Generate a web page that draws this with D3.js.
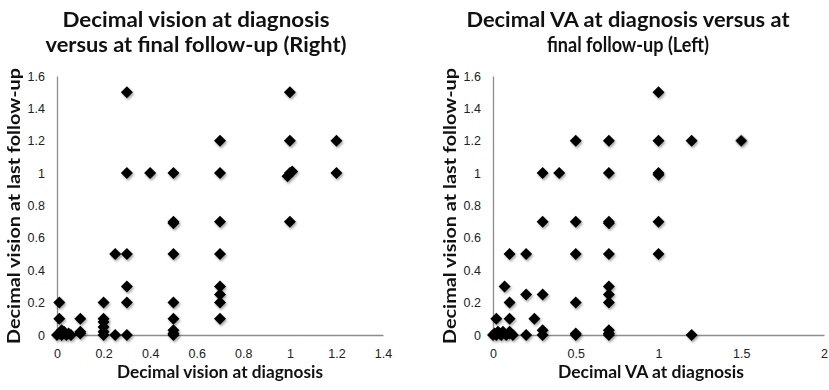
<!DOCTYPE html>
<html>
<head>
    <title>Decimal vision at diagnosis versus final follow-up</title>
    <script src="https://cdnjs.cloudflare.com/ajax/libs/d3/7.8.5/d3.min.js"></script>
    <style>
        body {
            margin: 0;
            background: white;
            font-family: Lato, "Open Sans", sans-serif;
        }
        .tick-label {
            font-size: 12.5px;
            fill: #222;
        }
        .chart-title {
            font-size: 20.5px;
            font-weight: 700;
            fill: #111;
        }
        .axis-title {
            font-size: 16.5px;
            font-weight: 700;
            fill: #111;
        }
    </style>
</head>
<body>
<svg id="chart" width="829" height="390"></svg>
<script>
// Right eye: [vision at diagnosis, vision at last follow-up]
const rightEyePoints = [
    [0.01, 0.2], [0.01, 0.1], [0, 0], [0.01, 0.01], [0.02, 0], [0.03, 0.02],
    [0.04, 0], [0.05, 0.01], [0.02, 0.03], [0.06, 0],
    [0.1, 0.1], [0.1, 0.02], [0.1, 0.01],
    [0.2, 0.2], [0.2, 0.1], [0.2, 0.08], [0.2, 0.05], [0.2, 0.02], [0.2, 0],
    [0.25, 0.5], [0.25, 0],
    [0.3, 1.5], [0.3, 1], [0.3, 0.5], [0.3, 0.3], [0.3, 0.2], [0.3, 0],
    [0.4, 1],
    [0.5, 1], [0.5, 0.7], [0.5, 0.69], [0.5, 0.5], [0.5, 0.2], [0.5, 0.1],
    [0.5, 0.03], [0.5, 0.01], [0.5, 0],
    [0.7, 1.2], [0.7, 1], [0.7, 0.7], [0.7, 0.5], [0.7, 0.3], [0.7, 0.25],
    [0.7, 0.2], [0.7, 0.1],
    [1, 1.5], [1, 1.2], [1, 1], [0.99, 0.98], [1.01, 1.01], [1, 0.7],
    [1.2, 1.2], [1.2, 1]
];

// Left eye: [VA at diagnosis, vision at last follow-up]
const leftEyePoints = [
    [0, 0], [0.01, 0.01], [0.02, 0], [0.03, 0.02], [0.04, 0.01], [0.05, 0],
    [0.06, 0.02], [0.08, 0], [0.1, 0.01], [0.12, 0], [0.02, 0.1],
    [0.07, 0.3], [0.1, 0.5], [0.1, 0.2], [0.1, 0.1], [0.1, 0.02],
    [0.2, 0.5], [0.2, 0.25], [0.2, 0],
    [0.25, 0.1],
    [0.3, 1], [0.3, 0.7], [0.3, 0.25], [0.3, 0.03], [0.3, 0],
    [0.4, 1],
    [0.5, 1.2], [0.5, 0.7], [0.5, 0.5], [0.5, 0.2], [0.5, 0.01], [0.5, 0],
    [0.7, 1.2], [0.7, 1], [0.7, 0.7], [0.7, 0.69], [0.7, 0.5], [0.7, 0.3],
    [0.7, 0.25], [0.7, 0.2], [0.7, 0.03], [0.7, 0.01], [0.7, 0],
    [1, 1.5], [1, 1.2], [1, 1], [1, 0.99], [1, 0.7], [1, 0.5],
    [1.2, 1.2], [1.2, 0],
    [1.5, 1.2]
];

const yTicks = [0, 0.2, 0.4, 0.6, 0.8, 1, 1.2, 1.4, 1.6];
const rightXTicks = [0, 0.2, 0.4, 0.6, 0.8, 1, 1.2, 1.4];
const leftXTicks = [0, 0.5, 1, 1.5, 2];

const rightTitle = ["Decimal vision at diagnosis", "versus at final follow-up (Right)"];
const leftTitle = ["Decimal VA at diagnosis versus at", "final follow-up (Left)"];
const yTitle = "Decimal vision at last follow-up";
const rightXTitle = "Decimal vision at diagnosis";
const leftXTitle = "Decimal VA at diagnosis";

const svg = d3.select('#chart');

// soft shadow under markers, like the spreadsheet default
const defs = svg.append('defs');
defs.append('filter')
    .attr('id', 'shadow')
    .attr('x', '-50%').attr('y', '-50%')
    .attr('width', '200%').attr('height', '200%')
    .append('feDropShadow')
    .attr('dx', 1.2).attr('dy', 1.8)
    .attr('stdDeviation', 1.1)
    .attr('flood-color', '#000')
    .attr('flood-opacity', 0.35);

const fmt = d => String(+d.toFixed(1));

function drawPanel(cfg) {
    const g = svg.append('g');

    const x = d3.scaleLinear().domain(cfg.xDomain).range([cfg.left, cfg.right]);
    const y = d3.scaleLinear().domain([0, 1.6]).range([cfg.bottom, cfg.top]);

    // y axis
    const yAxis = g.append('g')
        .attr('transform', `translate(${cfg.left},0)`)
        .call(d3.axisLeft(y).tickValues(yTicks).tickSize(0).tickPadding(12).tickFormat(fmt));
    yAxis.select('.domain').attr('stroke', '#8c8c8c').attr('stroke-width', 1.3);
    yAxis.selectAll('text').attr('class', 'tick-label').attr('font-size', null).attr('font-family', null);

    // x axis
    const xAxis = g.append('g')
        .attr('transform', `translate(0,${cfg.bottom})`)
        .call(d3.axisBottom(x).tickValues(cfg.xTicks).tickSize(0).tickPadding(14).tickFormat(fmt));
    xAxis.select('.domain').attr('stroke', '#8c8c8c').attr('stroke-width', 1.3);
    xAxis.selectAll('text').attr('class', 'tick-label').attr('font-size', null).attr('font-family', null);

    // markers
    const diamond = d3.symbol().type(d3.symbolSquare).size(72);
    g.append('g')
        .attr('filter', 'url(#shadow)')
        .selectAll('path')
        .data(cfg.points)
        .join('path')
        .attr('d', diamond)
        .attr('fill', '#000')
        .attr('transform', d => `translate(${x(d[0])},${y(d[1])}) rotate(45)`);

    // chart title
    cfg.title.forEach((line, i) => {
        g.append('text')
            .attr('class', 'chart-title')
            .attr('x', cfg.titleX)
            .attr('y', 27 + i * 25)
            .attr('text-anchor', 'middle')
            .attr('textLength', cfg.titleWidths[i])
            .attr('lengthAdjust', 'spacingAndGlyphs')
            .text(line);
    });

    // x axis title
    g.append('text')
        .attr('class', 'axis-title')
        .attr('x', cfg.xTitleX)
        .attr('y', 378)
        .attr('text-anchor', 'middle')
        .attr('textLength', cfg.xTitleWidth)
        .attr('lengthAdjust', 'spacingAndGlyphs')
        .text(cfg.xTitle);

    // y axis title
    g.append('text')
        .attr('class', 'axis-title')
        .attr('transform', `translate(${cfg.yTitleX},206) rotate(-90)`)
        .attr('text-anchor', 'middle')
        .attr('textLength', 276)
        .attr('lengthAdjust', 'spacingAndGlyphs')
        .text(yTitle);
}

drawPanel({
    points: rightEyePoints,
    xDomain: [0, 1.4], xTicks: rightXTicks,
    left: 57, right: 383, top: 76, bottom: 335,
    title: rightTitle, titleX: 196, titleWidths: [267, 301],
    xTitle: rightXTitle, xTitleX: 220, xTitleWidth: 206,
    yTitleX: 20
});

drawPanel({
    points: leftEyePoints,
    xDomain: [0, 2], xTicks: leftXTicks,
    left: 493, right: 824, top: 76, bottom: 335,
    title: leftTitle, titleX: 628, titleWidths: [323, 162],
    xTitle: leftXTitle, xTitleX: 651, xTitleWidth: 186,
    yTitleX: 456
});
</script>
</body>
</html>
